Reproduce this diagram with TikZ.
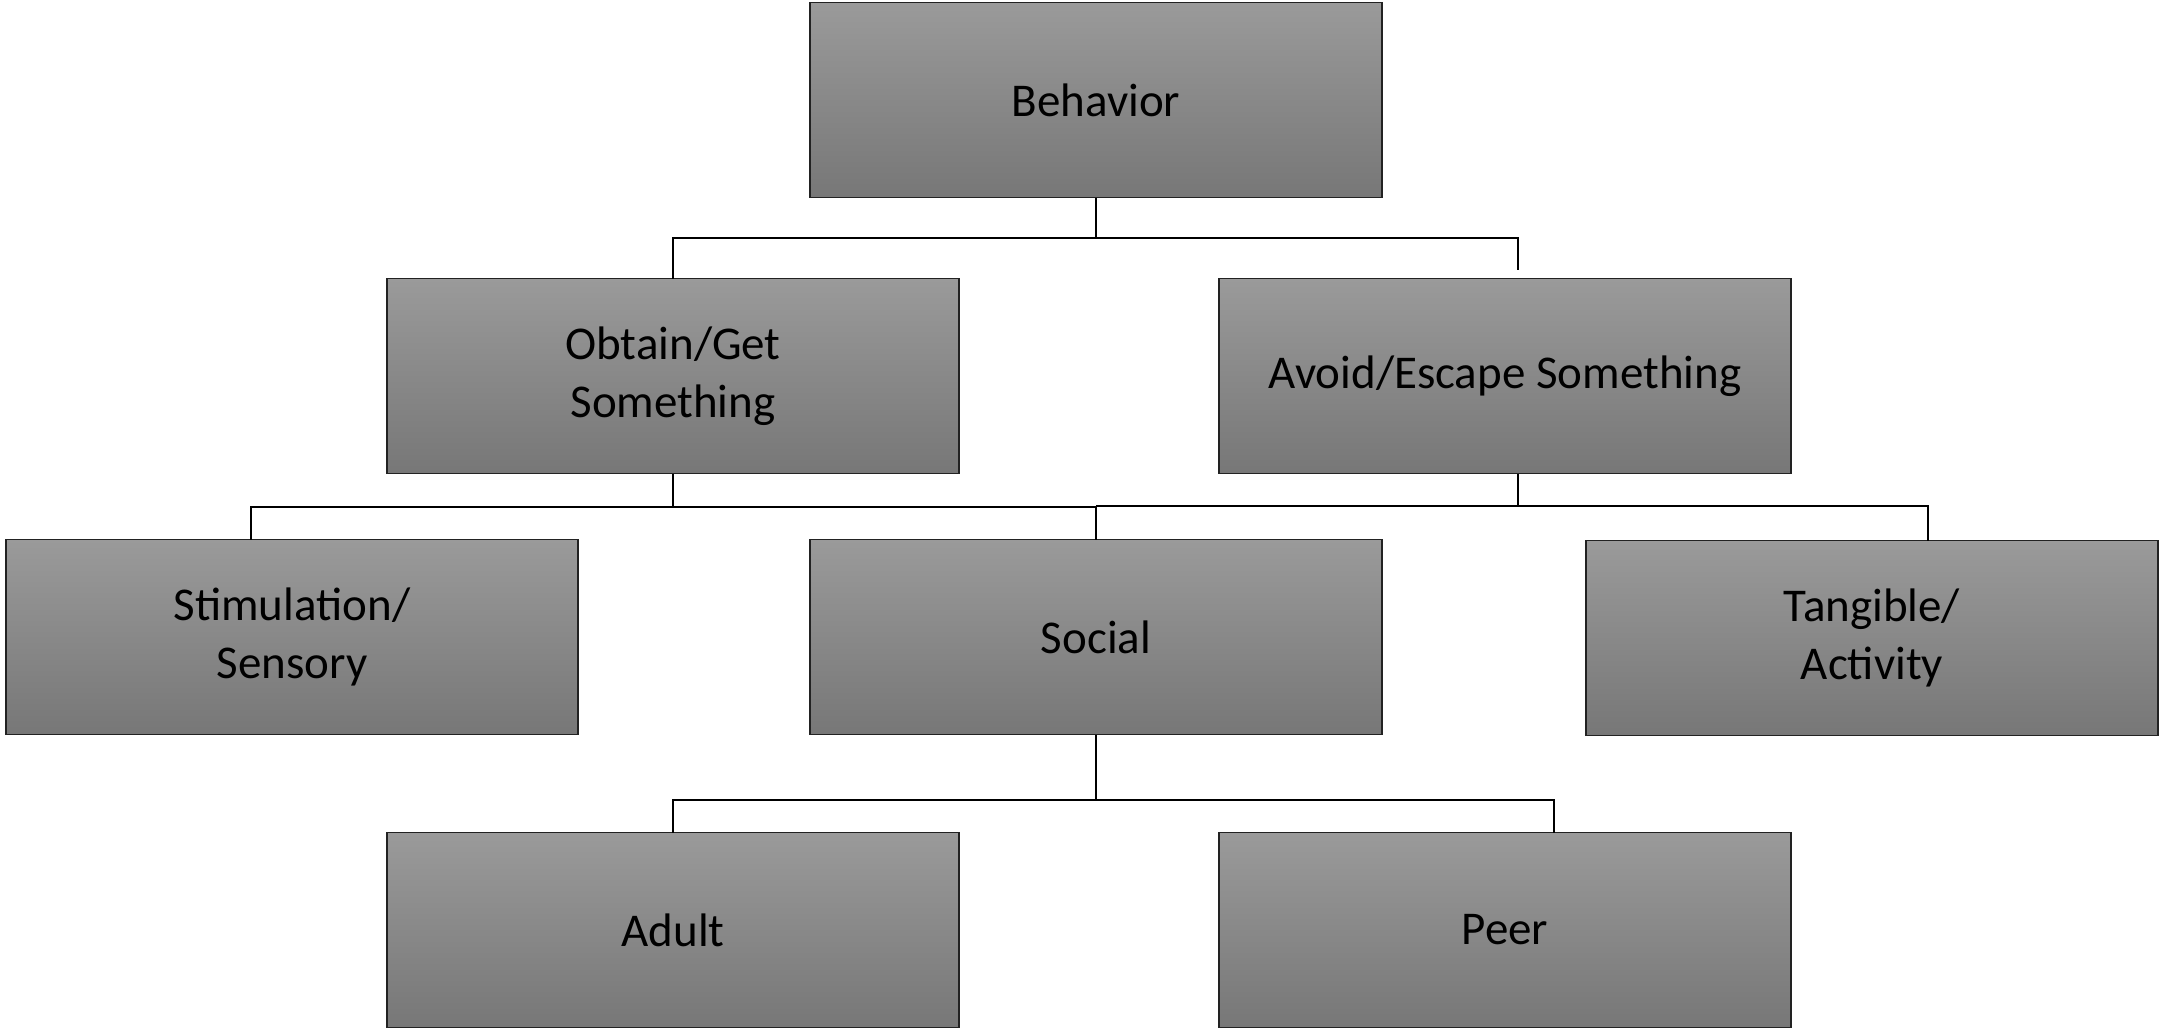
\documentclass[tikz,border=0pt]{standalone}
\usepackage{fontspec}
\setmainfont{Carlito}
\definecolor{boxtop}{HTML}{9A9A9A}
\definecolor{boxbot}{HTML}{777777}
\definecolor{edge}{HTML}{222222}
\begin{document}
\begin{tikzpicture}[x=1pt,y=-1pt,
  box/.style={draw=edge,line width=1.6pt,top color=boxtop,bottom color=boxbot,
    minimum width=572pt,minimum height=195pt,inner sep=0pt,outer sep=0pt,
    align=center,font=\fontsize{47}{58}\selectfont},
  conn/.style={draw=black,line width=1.5pt}]
\useasboundingbox (0,0) rectangle (2161,1029);
\node[box] (beh) at (1096,100) {Behavior};
\node[box] (obt) at (673,376) {Obtain/Get\\Something};
\node[box] (avo) at (1505,376) {Avoid/Escape Something};
\node[box] (sti) at (292,637) {Stimulation/\\Sensory};
\node[box] (soc) at (1096,637) {Social};
\node[box] (tan) at (1872,638) {Tangible/\\Activity};
\node[box] (adu) at (673,930) {Adult};
\node[box] (pee) at (1505,930) {Peer};
% level 1
\coordinate (j1) at (1096,238);
\coordinate (r1) at (1518,238);
\coordinate (r1e) at (1518,270);
\draw[conn] (beh.south) -- (j1);
\draw[conn] (obt.north) -- (obt.north |- j1) -- (r1) -- (r1e);
% level 2 left
\coordinate (j2) at (673,507);
\draw[conn] (obt.south) -- (j2);
\draw[conn] (sti.north -| 251,0) -- (251,507) -- (soc.north |- j2) -- (soc.north);
% level 2 right
\coordinate (a2) at (1518,474);
\coordinate (j3) at (1518,506);
\draw[conn] (a2) -- (j3);
\draw[conn] (1096,506) -- (1928,506) -- (tan.north -| 1928,0);
% level 3
\coordinate (j4) at (1096,800);
\draw[conn] (soc.south) -- (j4);
\draw[conn] (adu.north) -- (adu.north |- j4) -- (1554,800) -- (pee.north -| 1554,0);
\end{tikzpicture}
\end{document}
